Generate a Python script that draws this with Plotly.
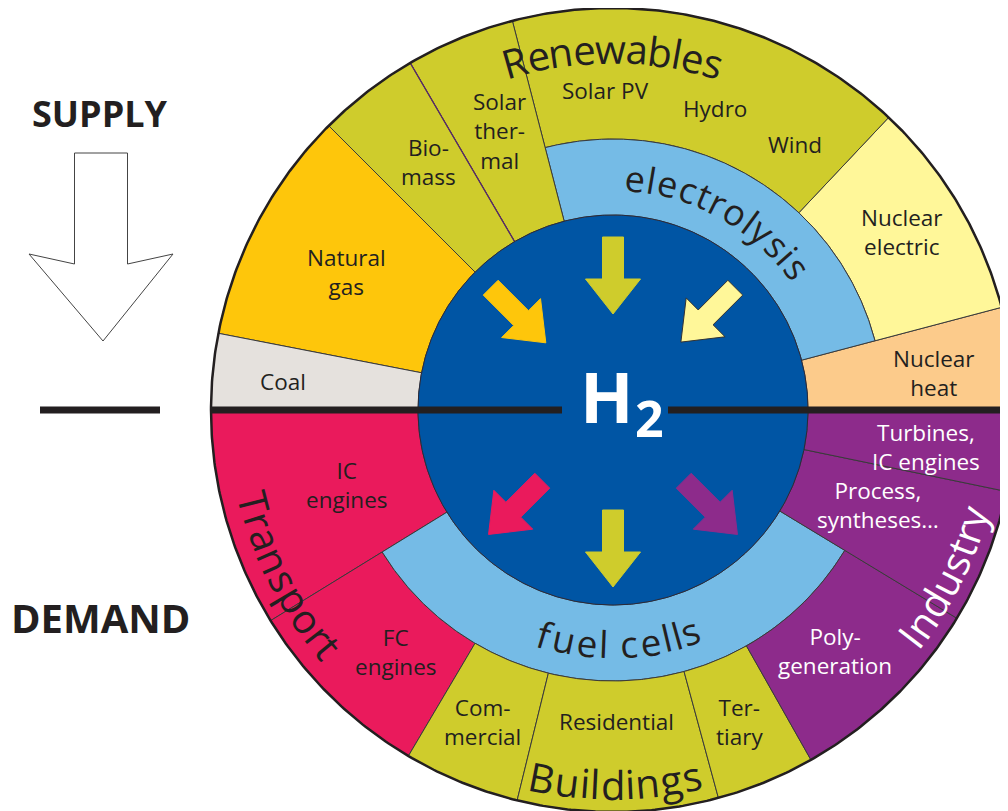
import numpy as np
import plotly.graph_objects as go

W, H = 1008, 811
PAGE_MARGIN = 8  # default body margin of the html page
CX, CY = 613, 410
R_CORE, R_RING, R_OUT = 195, 271, 402

OLIVE = "#cfcc2c"
LBLUE = "#75bbe6"
DBLUE = "#0055a4"
PINK = "#ea1a5c"
PURPLE = "#8d2b8b"
GAS = "#fec60b"
NUC_E = "#fff799"
NUC_H = "#fccb8b"
COAL = "#e5e1dd"
INK = "#231f20"

# ---- sectors (math angles in degrees, counter-clockwise from east) ----
sector_names = ["Nuclear heat", "Nuclear electric", "Solar PV/Hydro/Wind", "Electrolysis",
                "Solar thermal", "Biomass", "Natural gas", "Coal",
                "IC engines", "FC engines", "Fuel cells", "Commercial", "Residential",
                "Tertiary", "Poly-generation", "Process", "Turbines"]
sector_a0 = [0.0, 14.8, 46.7, 14.8, 104.5, 120.3, 135.0, 169.0,
             180.0, 211.6, 211.6, 239.4, 256.2, 285.2, 299.5, 328.8, 348.3]
sector_a1 = [14.8, 46.7, 104.5, 104.5, 120.3, 135.0, 169.0, 180.0,
             211.6, 239.4, 328.8, 256.2, 285.2, 299.5, 328.8, 348.3, 360.0]
sector_inner = ["core", "ring", "ring", "core", "core", "core", "core", "core",
                "core", "ring", "core", "ring", "ring", "ring", "ring", "core", "core"]
sector_outer = ["out", "out", "out", "ring", "out", "out", "out", "out",
                "out", "out", "ring", "out", "out", "out", "out", "out", "out"]
sector_colors = [NUC_H, NUC_E, OLIVE, LBLUE, OLIVE, OLIVE, GAS, COAL,
                 PINK, PINK, LBLUE, OLIVE, OLIVE, OLIVE, PURPLE, PURPLE, PURPLE]
RADII = {"core": R_CORE, "ring": R_RING, "out": R_OUT}

# ---- sector labels (polar position) ----
label_texts = ["Coal", "Natural<br>gas", "Bio-<br>mass", "Solar<br>ther-<br>mal", "Solar PV",
               "Hydro", "Wind", "Nuclear<br>electric", "Nuclear<br>heat",
               "IC<br>engines", "FC<br>engines", "Com-<br>mercial", "Residential",
               "Ter-<br>tiary", "Poly-<br>generation", "Process,<br>syntheses…",
               "Turbines,<br>IC engines"]
label_angles = [175.0, 152.6, 126.6, 112.2, 91.3, 71.3, 55.6, 31.6, 6.6,
                195.7, 228.1, 247.2, 270.7, 292.1, 312.6, 340.3, 353.3]
label_radii = [331, 300, 309, 301, 320, 318, 322, 339, 323,
               276, 325, 338, 312, 337, 328, 282, 315]
label_colors = [INK] * 14 + ["white"] * 3

# ---- curved group labels ----
curve_texts = ["Renewables", "electrolysis", "fuel cells", "Transport", "Buildings", "Industry"]
curve_a_start = [105.8, 84.5, 253.2, 194.4, 259.1, 322.5]
curve_a_end = [73.9, 37.7, 289.3, 219.9, 282.1, 343.5]
curve_r = [362, 233, 234, 370, 374, 374]
curve_size = [40, 36, 37, 40, 40, 40]
curve_side = ["top", "top", "bottom", "bottom", "bottom", "bottom"]
curve_colors = [INK, INK, INK, INK, INK, "white"]

# ---- conversion arrows in the core ----
arrow_angles = [135, 90, 45, 225, 270, 315]
arrow_r_tail = [173, 173, 173, 100, 100, 100]
arrow_r_tip = [95, 96, 96, 176, 177, 176]
arrow_colors = [GAS, OLIVE, NUC_E, PINK, OLIVE, PURPLE]
arrow_outline = [False, False, True, False, False, False]

CHAR_W = {" ": 0.26, "a": 0.556, "b": 0.613, "c": 0.476, "d": 0.613, "e": 0.561, "f": 0.339,
          "g": 0.548, "h": 0.614, "i": 0.253, "l": 0.253, "n": 0.614, "o": 0.604, "p": 0.613,
          "r": 0.408, "s": 0.477, "t": 0.353, "u": 0.614, "w": 0.778, "y": 0.504,
          "R": 0.633, "T": 0.559, "B": 0.641, "I": 0.293}

FONT = "Open Sans"


def pt(a, r):
    t = np.radians(a)
    return CX + r * np.cos(t), CY - r * np.sin(t)


def wedge(a0, a1, r0, r1):
    n = max(int(abs(a1 - a0) * 3), 10)
    angs = np.linspace(a0, a1, n)
    xo, yo = pt(angs, r1)
    xi, yi = pt(angs[::-1], r0)
    x = np.concatenate([xo, xi, xo[:1]])
    y = np.concatenate([yo, yi, yo[:1]])
    return x, y


fig = go.Figure()

for name, a0, a1, ri, ro, col in zip(sector_names, sector_a0, sector_a1,
                                     sector_inner, sector_outer, sector_colors):
    x, y = wedge(a0, a1, RADII[ri], RADII[ro])
    fig.add_trace(go.Scatter(x=x, y=y, mode="lines", fill="toself", fillcolor=col,
                             line=dict(color="#3a3a3a", width=1), hoverinfo="skip",
                             name=name, showlegend=False))

# thin purple divider between biomass and solar thermal (as in the original artwork)
bx, by = pt(np.array([120.3, 120.3]), np.array([R_CORE, R_OUT]))
fig.add_trace(go.Scatter(x=bx, y=by, mode="lines", line=dict(color="#5a2a6a", width=1.2),
                         hoverinfo="skip", showlegend=False))

# core
angs = np.linspace(0, 360, 721)
xc, yc = pt(angs, R_CORE)
fig.add_trace(go.Scatter(x=xc, y=yc, mode="lines", fill="toself", fillcolor=DBLUE,
                         line=dict(color="#2a2a3a", width=1), hoverinfo="skip", showlegend=False))
# outer outline
xo, yo = pt(angs, R_OUT)
fig.add_trace(go.Scatter(x=xo, y=yo, mode="lines", line=dict(color=INK, width=2.5),
                         hoverinfo="skip", showlegend=False))

# supply / demand divider
GAP_L, GAP_R = 51, 55
fig.add_trace(go.Scatter(x=[CX - R_OUT, CX - GAP_L], y=[CY, CY], mode="lines",
                         line=dict(color=INK, width=7), hoverinfo="skip", showlegend=False))
fig.add_trace(go.Scatter(x=[CX + GAP_R, CX + R_OUT], y=[CY, CY], mode="lines",
                         line=dict(color=INK, width=7), hoverinfo="skip", showlegend=False))
fig.add_trace(go.Scatter(x=[40, 160], y=[CY, CY], mode="lines",
                         line=dict(color=INK, width=7), hoverinfo="skip", showlegend=False))

# arrows
SHAFT_HALF, HEAD_HALF, HEAD_LEN = 10.5, 27.5, 35
for a, rt, rp, col, outl in zip(arrow_angles, arrow_r_tail, arrow_r_tip, arrow_colors, arrow_outline):
    tx, ty = pt(a, rt)
    px, py = pt(a, rp)
    u = np.array([px - tx, py - ty])
    u = u / np.linalg.norm(u)
    nvec = np.array([-u[1], u[0]])
    tail = np.array([tx, ty])
    tip = np.array([px, py])
    neck = tip - u * HEAD_LEN
    pts = [tail + nvec * SHAFT_HALF, neck + nvec * SHAFT_HALF, neck + nvec * HEAD_HALF, tip,
           neck - nvec * HEAD_HALF, neck - nvec * SHAFT_HALF, tail - nvec * SHAFT_HALF,
           tail + nvec * SHAFT_HALF]
    pts = np.array(pts)
    fig.add_trace(go.Scatter(x=pts[:, 0], y=pts[:, 1], mode="lines", fill="toself", fillcolor=col,
                             line=dict(color="#333333" if outl else col, width=1),
                             hoverinfo="skip", showlegend=False))

# supply arrow outline (left)
SA_CX, SA_TOP, SA_SHAFT_BOT, SA_HEAD_Y, SA_TIP, SA_SH, SA_HH = 101, 153, 264, 254, 341, 26.5, 72
sx = [SA_CX - SA_SH, SA_CX + SA_SH, SA_CX + SA_SH, SA_CX + SA_HH, SA_CX + 2, SA_CX - SA_HH,
      SA_CX - SA_SH, SA_CX - SA_SH]
sy = [SA_TOP, SA_TOP, SA_SHAFT_BOT, SA_HEAD_Y, SA_TIP, SA_HEAD_Y, SA_SHAFT_BOT, SA_TOP]
fig.add_trace(go.Scatter(x=sx, y=sy, mode="lines", fill="toself", fillcolor="white",
                         line=dict(color="#444444", width=1), hoverinfo="skip", showlegend=False))

annotations = []
# sector labels
for txt, a, r, col in zip(label_texts, label_angles, label_radii, label_colors):
    x, y = pt(a, r)
    annotations.append(dict(x=x, y=y, text=txt, showarrow=False, xanchor="center", yanchor="middle",
                            align="center", font=dict(family=FONT, size=22.5, color=col)))

# curved labels
for txt, a0, a1, r, size, side, col in zip(curve_texts, curve_a_start, curve_a_end, curve_r,
                                          curve_size, curve_side, curve_colors):
    widths = np.array([CHAR_W.get(c, 0.5) for c in txt])
    centers = np.cumsum(widths) - widths / 2
    frac = (centers - centers[0]) / (centers[-1] - centers[0])
    for c, f in zip(txt, frac):
        if c == " ":
            continue
        a = a0 + (a1 - a0) * f
        x, y = pt(a, r)
        rot = (90 - a) if side == "top" else (270 - a)
        annotations.append(dict(x=x, y=y, text=c, showarrow=False, xanchor="center",
                                yanchor="middle", textangle=rot,
                                font=dict(family=FONT, size=size, color=col)))

# H2
annotations.append(dict(x=CX - 6, y=CY - 14, text="<b>H</b>", showarrow=False, xanchor="center",
                        yanchor="middle", font=dict(family=FONT, size=70, color="white")))
annotations.append(dict(x=CX + 36, y=CY + 8, text="<b>2</b>", showarrow=False, xanchor="center",
                        yanchor="middle", font=dict(family=FONT, size=50, color="white")))

# SUPPLY / DEMAND
annotations.append(dict(x=100, y=113, text="<b>SUPPLY</b>", showarrow=False, xanchor="center",
                        yanchor="middle", font=dict(family=FONT, size=36, color=INK)))
annotations.append(dict(x=100, y=617, text="<b>DEMAND</b>", showarrow=False, xanchor="center",
                        yanchor="middle", font=dict(family=FONT, size=40, color=INK)))

# the page adds an 8 px margin around the plot div; offset the ranges so that
# data units equal screen pixels of the photographed window
fig.update_layout(
    width=W, height=H, margin=dict(l=0, r=0, t=0, b=0),
    paper_bgcolor="white", plot_bgcolor="white",
    xaxis=dict(range=[PAGE_MARGIN, W + PAGE_MARGIN], visible=False, fixedrange=True),
    yaxis=dict(range=[H + PAGE_MARGIN, PAGE_MARGIN], visible=False, fixedrange=True),
    annotations=annotations, showlegend=False,
)

fig.write_html("out.html")
